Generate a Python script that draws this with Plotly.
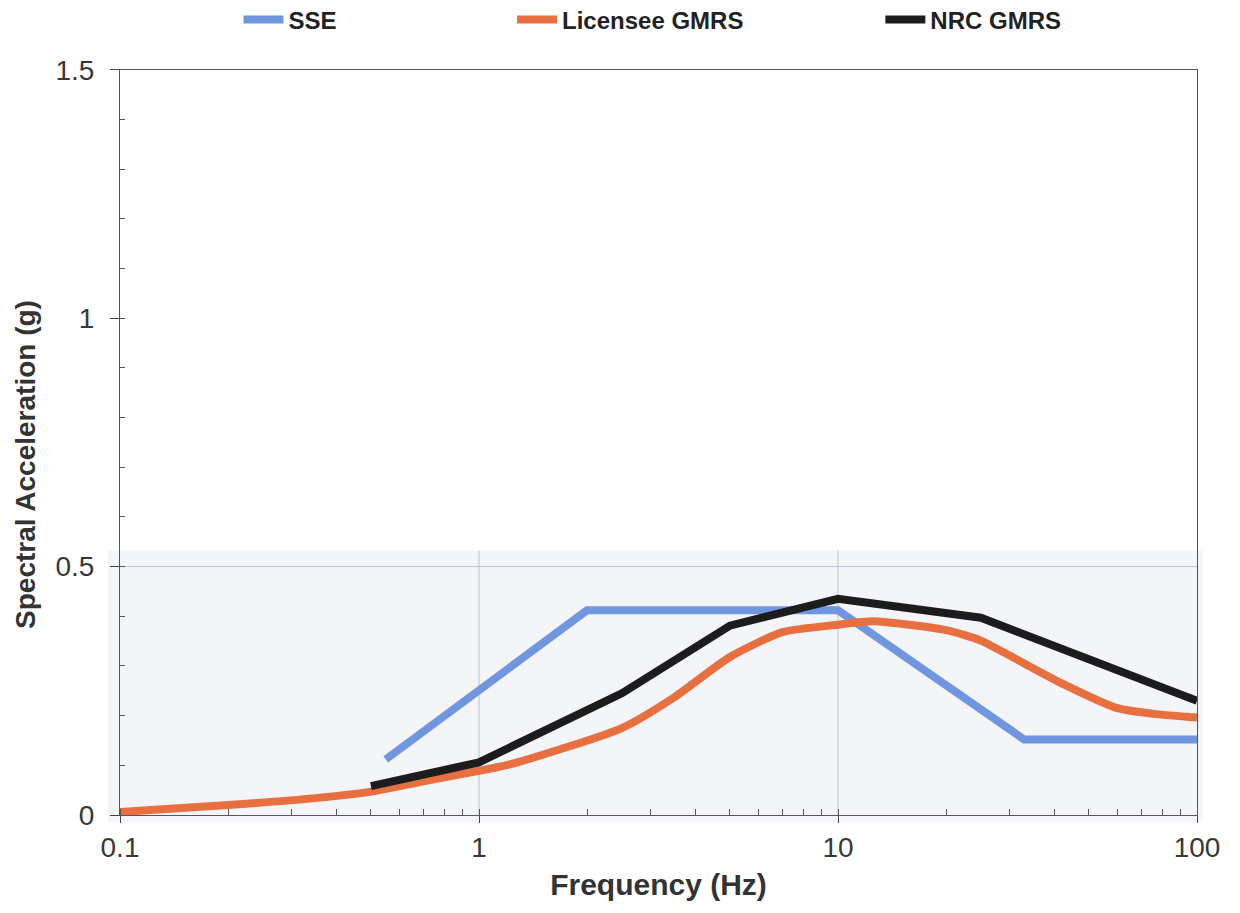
import plotly.graph_objects as go

# ---- data ----
sse_f = [0.55, 2.0, 10.0, 33.0, 100.0]
sse_a = [0.112, 0.412, 0.412, 0.152, 0.152]

lic_f = [0.1, 0.2, 0.35, 0.5, 0.7, 1.0, 1.25, 2.5, 3.5, 5.0, 7.0, 10.0, 12.5, 20.0, 25.0, 33.0, 42.0, 60.0, 77.0, 100.0]
lic_a = [0.006, 0.02, 0.034, 0.047, 0.068, 0.089, 0.104, 0.175, 0.237, 0.318, 0.368, 0.383, 0.39, 0.372, 0.351, 0.305, 0.265, 0.215, 0.203, 0.196]

nrc_f = [0.5, 1.0, 2.5, 5.0, 10.0, 25.0, 100.0]
nrc_a = [0.058, 0.106, 0.245, 0.381, 0.435, 0.397, 0.23]

x_tickvals = [0.1, 1, 10, 100]
x_ticktext = ["0.1", "1", "10", "100"]
y_tickvals = [0, 0.5, 1, 1.5]
y_ticktext = ["0", "0.5", "1", "1.5"]

BLUE = "rgb(111,150,222)"
ORANGE = "rgb(232,112,64)"
BLACK = "rgb(28,28,28)"
FONT = "Liberation Sans, Arial, sans-serif"

fig = go.Figure()
fig.add_trace(go.Scatter(x=sse_f, y=sse_a, mode="lines", name="SSE",
                         line=dict(color=BLUE, width=8), legend="legend"))
fig.add_trace(go.Scatter(x=lic_f, y=lic_a, mode="lines", name="Licensee GMRS",
                         line=dict(color=ORANGE, width=8, shape="spline", smoothing=0.6),
                         legend="legend2"))
fig.add_trace(go.Scatter(x=nrc_f, y=nrc_a, mode="lines", name="NRC GMRS",
                         line=dict(color=BLACK, width=8), legend="legend3"))

shapes = [
    # light tinted lower panel
    dict(type="rect", xref="paper", yref="paper", x0=-0.011, x1=1.005, y0=-0.009, y1=0.355,
         fillcolor="#f3f5f9", line=dict(width=0), layer="below"),
    # horizontal grid at 0.5
    dict(type="line", xref="paper", yref="y", x0=0, x1=1, y0=0.5, y1=0.5,
         line=dict(color="#b9c1d9", width=1), layer="below"),
]
for gx in [1, 10]:
    shapes.append(dict(type="line", xref="x", yref="paper", x0=gx, x1=gx, y0=0, y1=0.355,
                       line=dict(color="#b9c1d9", width=1), layer="below"))

legend_common = dict(orientation="h", yref="container", yanchor="middle", y=1 - 20 / 913,
                     xanchor="left",
                     font=dict(family=FONT, size=24, color="#222", weight="bold"),
                     bgcolor="rgba(0,0,0,0)", itemwidth=40, tracegroupgap=0)

fig.update_layout(
    width=1240, height=913,
    margin=dict(l=120, r=43, t=68, b=98),
    paper_bgcolor="white", plot_bgcolor="white",
    font=dict(family=FONT, color="#333"),
    shapes=shapes,
    showlegend=True,
    legend=dict(x=0.110, **legend_common),
    legend2=dict(x=0.364, **legend_common),
    legend3=dict(x=0.706, **legend_common),
    annotations=[dict(
        text="<b>Spectral Acceleration (g)</b>", textangle=-90,
        xref="paper", yref="paper", x=-0.088, y=0.47, xanchor="center", yanchor="middle",
        showarrow=False, font=dict(family=FONT, size=28, color="#333"),
    )],
    xaxis=dict(
        type="log", range=[-1, 2],
        tickvals=x_tickvals, ticktext=x_ticktext,
        tickfont=dict(size=28, color="#383838"),
        ticks="outside", ticklen=7, tickcolor="#444",
        minor=dict(ticks="inside", ticklen=6, tickcolor="#555", dtick="D1", showgrid=False),
        showgrid=False, zeroline=False,
        showline=True, linecolor="#555", linewidth=1, mirror=True,
        title=dict(text="<b>Frequency (Hz)</b>", font=dict(size=30, color="#333"), standoff=12),
    ),
    yaxis=dict(
        range=[0, 1.5],
        tickvals=y_tickvals, ticktext=y_ticktext,
        tickfont=dict(size=28, color="#383838"),
        ticks="outside", ticklen=9, tickcolor="#444",
        ticklabelstandoff=10,
        minor=dict(ticks="inside", ticklen=5, tickcolor="#555", dtick=0.1, showgrid=False),
        showgrid=False, zeroline=False,
        showline=True, linecolor="#555", linewidth=1, mirror=True,
    ),
)

fig.write_html("out.html")
